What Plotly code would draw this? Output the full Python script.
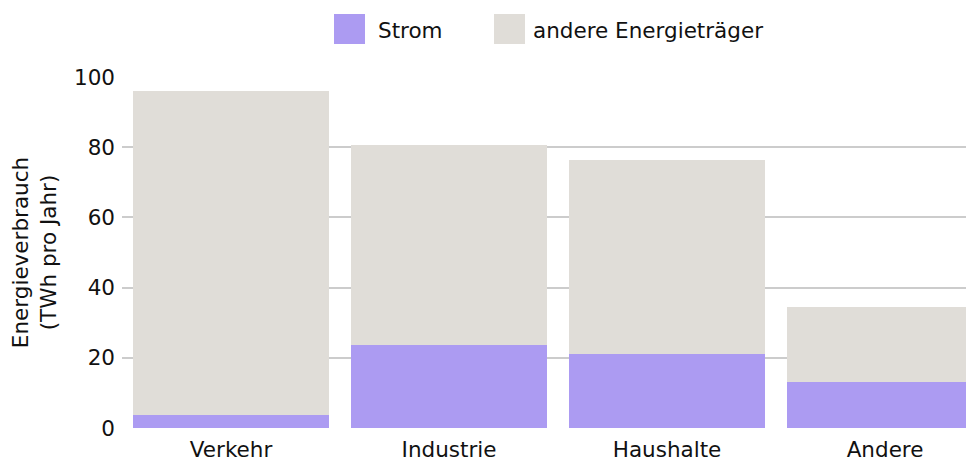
import plotly.graph_objects as go

categories = ["Verkehr", "Industrie", "Haushalte", "Andere"]
strom = [3.7, 23.6, 21.1, 13.1]
andere = [92.3, 57.0, 55.3, 21.4]
series_names = ["Strom", "andere Energieträger"]
y_ticks = [0, 20, 40, 60, 80, 100]
y_title = "Energieverbrauch<br>(TWh pro Jahr)"

PURPLE = "#AC9BF2"
GREY = "#E0DDD8"
FONT = "DejaVu Sans, Liberation Sans, Arial, sans-serif"
TXT = "#111111"
FS = 21.5

# page has an 8px body margin; figure coordinates = page coordinates - 8
L, T, PW, PH = 114, 69, 852, 351

fig = go.Figure()
fig.add_trace(go.Bar(x=categories, y=strom, name=series_names[0],
                     marker=dict(color=PURPLE, line=dict(width=0)), showlegend=False))
fig.add_trace(go.Bar(x=categories, y=andere, name=series_names[1],
                     marker=dict(color=GREY, line=dict(width=0)), showlegend=False))

# legend drawn as swatches + text (large square swatches as in reference)
legend_items = [(series_names[0], PURPLE, 334, 376), (series_names[1], GREY, 494, 531)]
for name, col, sx, tx in legend_items:
    sx -= 8
    tx -= 8
    fig.add_shape(type="rect", xref="paper", yref="paper",
                  x0=(sx - L) / PW, x1=(sx + 31 - L) / PW,
                  y0=(T + PH - 36) / PH, y1=(T + PH - 6) / PH,
                  fillcolor=col, line=dict(width=0), layer="above")
    fig.add_annotation(text=name, xref="paper", yref="paper",
                       x=(tx - L) / PW, y=(T + PH - 22) / PH,
                       xanchor="left", yanchor="middle", showarrow=False,
                       font=dict(family=FONT, size=FS, color=TXT))

fig.update_layout(
    barmode="stack",
    bargap=0.105,
    width=966, height=455,
    margin=dict(l=L, r=0, t=T, b=455 - T - PH),
    plot_bgcolor="white", paper_bgcolor="white",
    font=dict(family=FONT, size=FS, color=TXT),
    showlegend=False,
)
fig.update_xaxes(range=[-0.5, 3.408], showgrid=False, showline=False, ticks="",
                 tickfont=dict(size=FS), ticklabelstandoff=6)
fig.update_yaxes(range=[0, 100], tickvals=y_ticks, showgrid=True, gridcolor="#CCCCCC",
                 gridwidth=1.5, zeroline=False, showline=False, ticks="",
                 tickfont=dict(size=FS), ticklabelstandoff=6,
                 title=dict(text=y_title, font=dict(size=FS), standoff=14))

fig.write_html("out.html")
